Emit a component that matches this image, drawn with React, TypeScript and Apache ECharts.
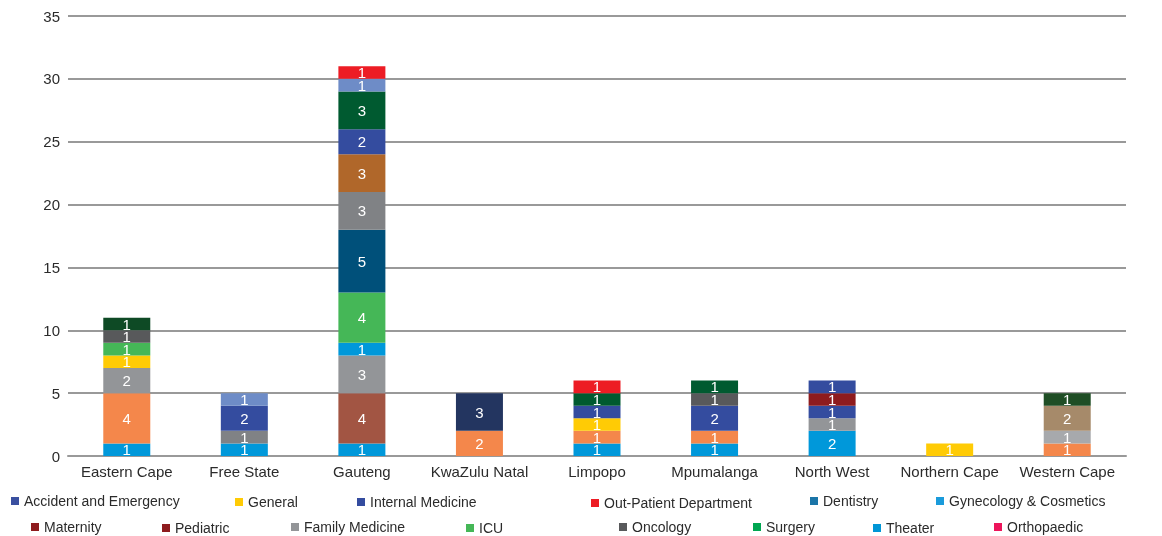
import React, { useEffect, useRef } from "react";
import * as echarts from "echarts";

// Provinces on the category axis
const categories = [
  "Eastern Cape",
  "Free State",
  "Gauteng",
  "KwaZulu Natal",
  "Limpopo",
  "Mpumalanga",
  "North West",
  "Northern Cape",
  "Western Cape",
];

// Stacked segment values per province, bottom to top
const easternCape = [1, 4, 2, 1, 1, 1, 1];
const freeState = [1, 1, 2, 1];
const gauteng = [1, 4, 3, 1, 4, 5, 3, 3, 2, 3, 1, 1];
const kwaZuluNatal = [2, 3];
const limpopo = [1, 1, 1, 1, 1, 1];
const mpumalanga = [1, 1, 2, 1, 1];
const northWest = [2, 1, 1, 1, 1];
const northernCape = [1];
const westernCape = [1, 1, 2, 1];

// Y axis ticks
const yTicks = [0, 5, 10, 15, 20, 25, 30, 35];

// Legend entries
const legendNames = [
  "Accident and Emergency",
  "General",
  "Internal Medicine",
  "Out-Patient Department",
  "Dentistry",
  "Gynecology & Cosmetics",
  "Maternity",
  "Pediatric",
  "Family Medicine",
  "ICU",
  "Oncology",
  "Surgery",
  "Theater",
  "Orthopaedic",
];

// ---- styling ----
const C = {
  blue: "#0098DA",
  orange: "#F4874B",
  gray: "#939598",
  gray2: "#808285",
  lightGray: "#A7A9AC",
  yellow: "#FFCB05",
  green: "#45B757",
  darkGray: "#58595B",
  pine: "#0E4A25",
  forest: "#005A30",
  moss: "#1F4E25",
  indigo: "#344C9F",
  periwinkle: "#6E8CC7",
  brick: "#A25543",
  petrol: "#00507A",
  copper: "#B0672A",
  navy: "#233560",
  maroon: "#8E1B1E",
  red: "#ED1C24",
  tan: "#A68A6A",
};

const segmentColors = [
  [C.blue, C.orange, C.gray, C.yellow, C.green, C.darkGray, C.pine],
  [C.blue, C.gray2, C.indigo, C.periwinkle],
  [C.blue, C.brick, C.gray, C.blue, C.green, C.petrol, C.gray2, C.copper, C.indigo, C.forest, C.periwinkle, C.red],
  [C.orange, C.navy],
  [C.blue, C.orange, C.yellow, C.indigo, C.forest, C.red],
  [C.blue, C.orange, C.indigo, C.darkGray, C.forest],
  [C.blue, C.gray, C.indigo, C.maroon, C.indigo],
  [C.yellow],
  [C.orange, C.lightGray, C.tan, C.moss],
];

const legendColors = [
  "#3A50A0", "#FFCB05", "#344C9F", "#ED1C24", "#1B75A8", "#1A9BDB", "#8E1B1E",
  "#8E1B1E", "#939598", "#45B757", "#58595B", "#00A651", "#0096D6", "#ED145B",
];

// legend item placement: [left, top]
const legendPos: [number, number][] = [
  [11, 494], [235, 495], [357, 495], [591, 496], [810, 494], [936, 494],
  [31, 520], [162, 521], [291, 520], [466, 521], [619, 520], [753, 520], [873, 521], [994, 520],
];

const FONT = "'Liberation Sans', Arial, Helvetica, sans-serif";

export default function App() {
  const ref = useRef<HTMLDivElement>(null);

  useEffect(() => {
    if (!ref.current) return;
    const chart = echarts.init(ref.current, undefined, { renderer: "svg" });

    const regions = [
      easternCape, freeState, gauteng, kwaZuluNatal, limpopo,
      mpumalanga, northWest, northernCape, westernCape,
    ];
    const levels = Math.max(...regions.map((r) => r.length));

    const layerSeries = Array.from({ length: levels }, (_, lvl) => ({
      type: "bar" as const,
      name: "layer" + lvl,
      stack: "total",
      barWidth: 47,
      data: regions.map((r, ri) =>
        r[lvl] === undefined
          ? "-"
          : { value: r[lvl], itemStyle: { color: segmentColors[ri][lvl] } }
      ),
      label: {
        show: true,
        position: "inside",
        color: "#ffffff",
        fontSize: 15,
        lineHeight: 12,
        fontFamily: FONT,
      },
      emphasis: { disabled: true },
    }));

    const legendSeries = legendNames.map((name, i) => ({
      type: "bar" as const,
      name,
      stack: "total",
      barWidth: 47,
      data: [],
      itemStyle: { color: legendColors[i] },
    }));

    chart.setOption({
      animation: false,
      textStyle: { fontFamily: FONT },
      grid: { left: 68, right: 36, top: 16, bottom: 80 },
      xAxis: {
        type: "category",
        data: categories,
        axisTick: { show: false },
        axisLine: { show: true, lineStyle: { color: "#999999", width: 2 } },
        axisLabel: { color: "#2b2b2b", fontSize: 15, margin: 8, fontFamily: FONT, interval: 0 },
      },
      yAxis: {
        type: "value",
        min: yTicks[0],
        max: yTicks[yTicks.length - 1],
        interval: yTicks[1] - yTicks[0],
        axisLine: { show: false },
        axisTick: { show: false },
        axisLabel: { color: "#2b2b2b", fontSize: 15, margin: 8, fontFamily: FONT },
        splitLine: { lineStyle: { color: "#999999", width: 2 } },
      },
      legend: legendNames.map((name, i) => ({
        data: [name],
        left: legendPos[i][0],
        top: legendPos[i][1],
        padding: 0,
        itemWidth: 8,
        itemHeight: 8,
        icon: "rect",
        selectedMode: false,
        textStyle: { color: "#2b2b2b", fontSize: 14, fontFamily: FONT },
      })),
      series: [...layerSeries, ...legendSeries],
    });

    return () => chart.dispose();
  }, []);

  return (
    <div
      ref={ref}
      style={{ position: "fixed", left: 0, top: 0, width: 1162, height: 536 }}
    />
  );
}
